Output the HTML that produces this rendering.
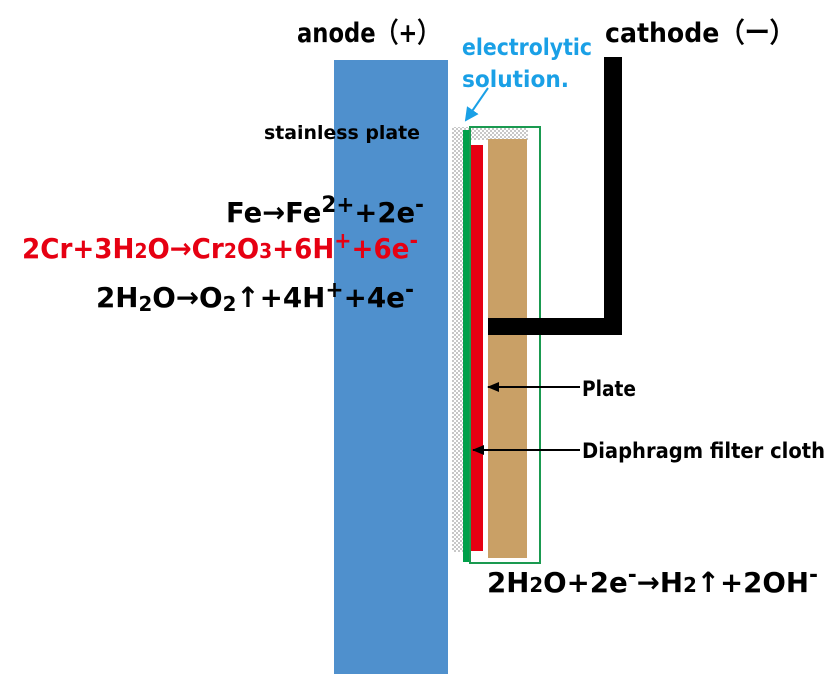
<!DOCTYPE html>
<html><head><style>html,body{margin:0;padding:0;background:#fff}svg{display:block}</style></head>
<body>
<svg width="840" height="686" viewBox="0 0 840 686" xmlns="http://www.w3.org/2000/svg" font-family="DejaVu Sans, Liberation Sans, sans-serif" font-weight="bold">
<defs>
<pattern id="ck" width="4" height="4" patternUnits="userSpaceOnUse">
<rect width="4" height="4" fill="#fff"/><rect width="2" height="2" fill="#c8c8c8"/><rect x="2" y="2" width="2" height="2" fill="#c8c8c8"/>
</pattern>
<marker id="ab" markerWidth="12" markerHeight="10" refX="11" refY="5" orient="auto" markerUnits="userSpaceOnUse"><path d="M0,0 L12,5 L0,10z" fill="#000"/></marker>
<marker id="ablue" markerWidth="14" markerHeight="14" refX="12" refY="7" orient="auto" markerUnits="userSpaceOnUse"><path d="M0,0 L14,7 L0,14z" fill="#1aa0e6"/></marker>
</defs>
<rect x="334" y="60" width="114" height="614" fill="#4f90cd"/>
<rect x="452" y="127" width="18" height="425" fill="url(#ck)"/>
<rect x="470" y="127" width="58" height="13" fill="url(#ck)"/>
<rect x="463" y="130" width="7" height="432" fill="#00a04a"/>
<rect x="470" y="127" width="70" height="436" fill="none" stroke="#1a9a50" stroke-width="2"/>
<rect x="471" y="145" width="12" height="406" fill="#e60012"/>
<rect x="488" y="139" width="39" height="419" fill="#c9a066"/>
<rect x="604" y="57" width="18" height="278" fill="#000"/>
<rect x="488" y="318" width="134" height="17" fill="#000"/>
<line x1="580" y1="387" x2="488" y2="387" stroke="#000" stroke-width="2" marker-end="url(#ab)"/>
<line x1="580" y1="450" x2="473" y2="450" stroke="#000" stroke-width="2" marker-end="url(#ab)"/>
<line x1="488" y1="88" x2="466" y2="120" stroke="#1aa0e6" stroke-width="2" marker-end="url(#ablue)"/>
<text x="297" y="42" font-size="27" textLength="143" lengthAdjust="spacingAndGlyphs">anode（+）</text>
<text x="605" y="42" font-size="27" textLength="190" lengthAdjust="spacingAndGlyphs">cathode（ー）</text>
<text x="462" y="55" font-size="23" fill="#1aa0e6" textLength="130" lengthAdjust="spacingAndGlyphs">electrolytic</text>
<text x="462" y="87" font-size="23" fill="#1aa0e6" textLength="107" lengthAdjust="spacingAndGlyphs">solution.</text>
<text x="264" y="139" font-size="19" textLength="156" lengthAdjust="spacingAndGlyphs">stainless plate</text>
<text x="226" y="222" font-size="28" textLength="198" lengthAdjust="spacingAndGlyphs">Fe→Fe<tspan dy="-10" font-size="22">2+</tspan><tspan dy="10">+2e</tspan><tspan dy="-10" font-size="22">-</tspan></text>
<text x="22" y="258" font-size="28" fill="#e60012" textLength="396" lengthAdjust="spacingAndGlyphs">2Cr+3H<tspan font-size="20">2</tspan>O→Cr<tspan font-size="20">2</tspan>O<tspan font-size="20">3</tspan>+6H<tspan dy="-10" font-size="22">+</tspan><tspan dy="10">+6e</tspan><tspan dy="-10" font-size="22">-</tspan></text>
<text x="96" y="307" font-size="28" textLength="318" lengthAdjust="spacingAndGlyphs">2H<tspan dy="4" font-size="20">2</tspan><tspan dy="-4">O→O</tspan><tspan dy="4" font-size="20">2</tspan><tspan dy="-4">↑+4H</tspan><tspan dy="-10" font-size="22">+</tspan><tspan dy="10">+4e</tspan><tspan dy="-10" font-size="22">-</tspan></text>
<text x="582" y="396" font-size="21" textLength="54" lengthAdjust="spacingAndGlyphs">Plate</text>
<text x="582" y="458" font-size="21" textLength="243" lengthAdjust="spacingAndGlyphs">Diaphragm filter cloth</text>
<text x="487" y="592" font-size="28" textLength="331" lengthAdjust="spacingAndGlyphs">2H<tspan font-size="20">2</tspan>O+2e<tspan dy="-10" font-size="22">-</tspan><tspan dy="10">→H</tspan><tspan font-size="20">2</tspan>↑+2OH<tspan dy="-10" font-size="22">-</tspan></text>
</svg>
</body></html>
